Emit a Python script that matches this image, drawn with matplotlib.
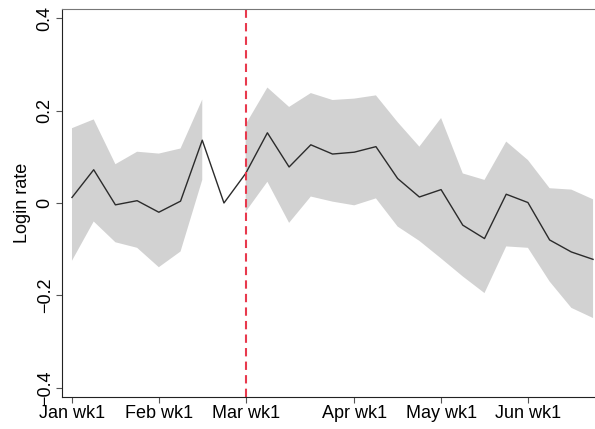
import numpy as np
import matplotlib.pyplot as plt

plt.rcParams['font.family'] = ['Liberation Sans', 'DejaVu Sans']

# weekly estimates with 95% CI, week 0 = Jan wk1
weeks = np.arange(25)
coef = [0.012, 0.072, -0.004, 0.005, -0.020, 0.004, 0.136, 0.000, 0.064,
        0.152, 0.078, 0.126, 0.106, 0.110, 0.122, 0.053, 0.013, 0.029,
        -0.048, -0.077, 0.019, 0.001, -0.080, -0.106, -0.122]
ci_hi = [0.162, 0.181, 0.084, 0.111, 0.107, 0.118, 0.224, np.nan, 0.170,
         0.250, 0.208, 0.238, 0.223, 0.226, 0.233, 0.175, 0.122, 0.184,
         0.064, 0.050, 0.133, 0.093, 0.032, 0.029, 0.008]
ci_lo = [-0.125, -0.040, -0.085, -0.097, -0.139, -0.105, 0.050, np.nan, -0.019,
         0.046, -0.043, 0.014, 0.003, -0.005, 0.010, -0.051, -0.082, -0.120,
         -0.159, -0.195, -0.094, -0.097, -0.170, -0.227, -0.249]

tick_weeks = [0, 4, 8, 13, 17, 21]
tick_labels = ['Jan wk1', 'Feb wk1', 'Mar wk1', 'Apr wk1', 'May wk1', 'Jun wk1']
event_week = 8

fig = plt.figure(figsize=(5.95, 4.29), dpi=100)
ax = fig.add_axes([62/595, 32/429, 533/595, 388/429])

ax.fill_between(weeks, ci_lo, ci_hi, color='#d2d2d2', linewidth=0)
ax.plot(weeks, coef, color='#2b2b2b', lw=1.0)
ax.axvline(event_week, color='#e8394d', lw=1.5, ls=(0, (4, 2.5)))

ax.set_xlim(-0.46, 24.09)
ax.set_ylim(-0.42, 0.42)
ax.set_xticks(tick_weeks)
ax.set_xticklabels(tick_labels, fontsize=13)
ax.set_yticks([-0.4, -0.2, 0, 0.2, 0.4])
ax.set_yticklabels(['\u22120.4', '\u22120.2', '0', '0.2', '0.4'],
                   fontsize=13, rotation=90, va='center')
ax.tick_params(axis='both', length=4, width=0.8, color='#555555', pad=2)
ax.set_ylabel('Login rate', fontsize=13, labelpad=4)

ax.spines['right'].set_visible(False)
ax.spines['top'].set_color('#777777')
ax.spines['left'].set_color('#222222')
ax.spines['bottom'].set_color('#222222')

fig.savefig('out.png', dpi=100)
